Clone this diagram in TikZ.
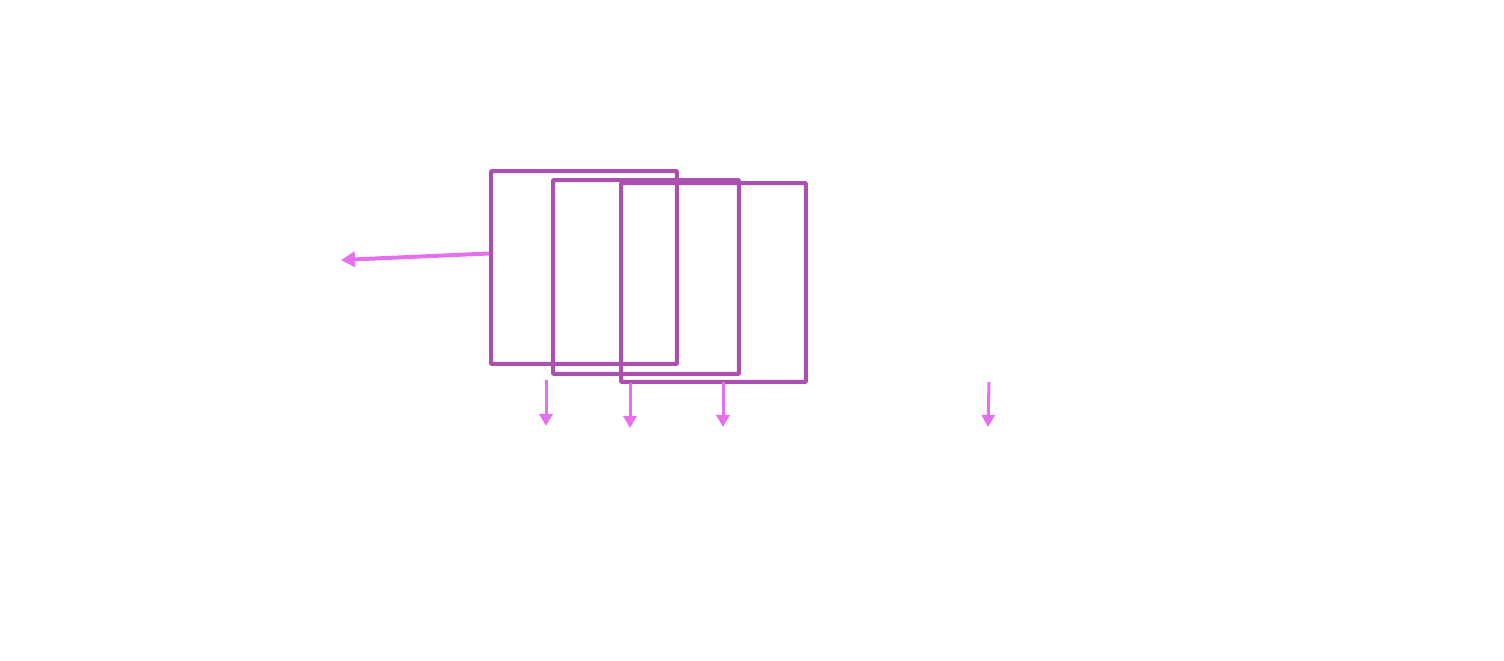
\documentclass[tikz,border=0pt]{standalone}
\usepackage{xcolor}
\usepackage{tikz}
\usetikzlibrary{arrows.meta}

\definecolor{framecol}{HTML}{AB4FB0}
\definecolor{arrowcol}{HTML}{E56FEF}

\begin{document}
\begin{tikzpicture}[x=0.02cm, y=-0.02cm,
    frame/.style={draw=framecol, line width=0.08cm, rectangle, rounded corners=0.5pt, inner sep=0pt},
    flow/.style={draw=arrowcol, line width=0.06cm, -{Triangle[width=0.26cm, length=0.24cm]}},
    bigflow/.style={draw=arrowcol, line width=0.08cm, -{Triangle[width=0.3cm, length=0.28cm]}}]
    \useasboundingbox (0,0) rectangle (1504,661);

    % Frames
    \node[frame, minimum width=3.72cm, minimum height=3.86cm] (f1) at (584,267.5) {};
    \node[frame, minimum width=3.72cm, minimum height=3.88cm] (f2) at (646,277) {};
    \node[frame, minimum width=3.70cm, minimum height=3.98cm] (f3) at (713.5,282.5) {};

    % Arrow ends
    \coordinate (out) at (341,260);
    \coordinate (s1) at (546,380);
    \coordinate (e1) at (546,426);
    \coordinate (s2) at (630,383);
    \coordinate (e2) at (630,428);
    \coordinate (s3) at (723,382);
    \coordinate (e3) at (723,427);
    \coordinate (s4) at (989,382);
    \coordinate (e4) at (988,427);

    % Edges
    \draw[bigflow] ([yshift=0.28cm]f1.west) -- (out);
    \draw[flow] (s1) -- (e1);
    \draw[flow] (s2) -- (e2);
    \draw[flow] (s3) -- (e3);
    \draw[flow] (s4) -- (e4);
\end{tikzpicture}
\end{document}
